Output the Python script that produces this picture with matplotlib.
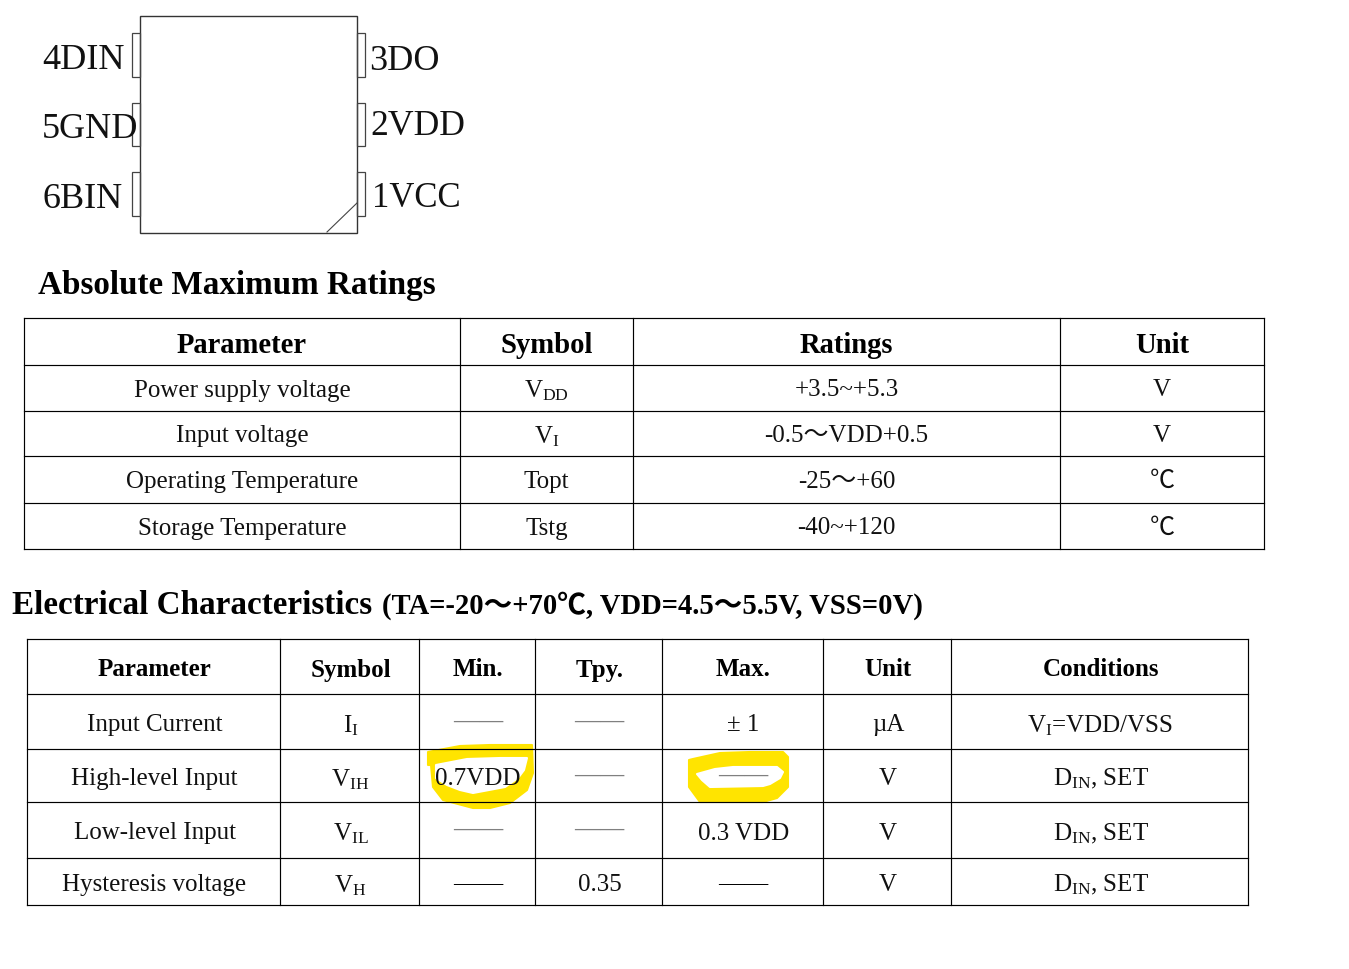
"""Pinout and rating tables from a LED driver datasheet."""

import matplotlib
matplotlib.use("Agg")
import matplotlib.pyplot as plt
from matplotlib.patches import Polygon, Rectangle

plt.rcParams["font.family"] = ["Liberation Serif", "Noto Sans CJK SC", "DejaVu Sans"]
plt.rcParams["mathtext.fontset"] = "custom"
plt.rcParams["mathtext.rm"] = "Liberation Serif"
plt.rcParams["mathtext.default"] = "rm"

# Pin labels
left_pins = ["4DIN", "5GND", "6BIN"]
right_pins = ["3DO", "2VDD", "1VCC"]

# Ratings table
ratings_title = "Absolute Maximum Ratings"
ratings_header = ["Parameter", "Symbol", "Ratings", "Unit"]
ratings_rows = [
    ["Power supply voltage", "V$_{DD}$", "+3.5~+5.3", "V"],
    ["Input voltage", "V$_{I}$", "-0.5～VDD+0.5", "V"],
    ["Operating Temperature", "Topt", "-25～+60", "℃"],
    ["Storage Temperature", "Tstg", "-40~+120", "℃"],
]

# Electrical table
elec_title = "Electrical Characteristics"
elec_note = "(TA=-20～+70℃, VDD=4.5～5.5V, VSS=0V)"
elec_header = ["Parameter", "Symbol", "Min.", "Tpy.", "Max.", "Unit", "Conditions"]
elec_rows = [
    ["Input Current", "I$_{I}$", "——", "——", "± 1", "µA", "V$_{I}$=VDD/VSS"],
    ["High-level Input", "V$_{IH}$", "0.7VDD", "——", "——", "V", "D$_{IN}$, SET"],
    ["Low-level Input", "V$_{IL}$", "——", "——", "0.3 VDD", "V", "D$_{IN}$, SET"],
    ["Hysteresis voltage", "V$_{H}$", "—", "0.35", "—", "V", "D$_{IN}$, SET"],
]

# Table grid positions in pixels
ratings_x = [24, 460, 633, 1060, 1264]
ratings_y = [318, 365, 411, 456, 503, 549]
elec_x = [27, 280, 419, 535, 662, 823, 951, 1248]
elec_y = [639, 694, 749, 802, 858, 905]

# Hand drawn highlighter marks
mark1_outer = [(428, 752), (460, 746), (490, 745), (532, 745), (533, 773), (527, 790),
               (510, 803), (490, 808), (473, 808), (443, 800), (433, 787), (431, 765), (428, 765)]
mark1_inner = [(436, 765), (467, 759), (500, 758), (527, 758), (524, 770), (518, 778),
               (505, 787), (473, 793), (460, 790), (447, 785), (436, 778)]
mark2_outer = [(689, 760), (693, 759), (720, 753), (750, 752), (783, 752), (788, 757), (788, 787),
               (777, 798), (763, 802), (700, 802), (689, 787)]
mark2_inner = [(697, 774), (715, 769), (733, 767), (777, 767), (783, 772), (780, 778), (770, 784),
               (763, 786), (710, 787), (702, 780)]

fig = plt.figure(figsize=(13.49, 9.69), dpi=100)
ax = fig.add_axes([0, 0, 1, 1])
ax.set_xlim(0, 1349)
ax.set_ylim(969, 0)
ax.axis("off")


def draw_table(xs, ys, header, rows, header_size, body_size, dx=0):
    """Draw the grid and the centred cell text of one table."""
    for x in xs:
        ax.plot([x, x], [ys[0], ys[-1]], color="black", lw=0.85, zorder=3)
    for y in ys:
        ax.plot([xs[0], xs[-1]], [y, y], color="black", lw=0.85, zorder=3)
    for i, label in enumerate(header):
        ax.text((xs[i] + xs[i + 1]) / 2 + dx, (ys[0] + ys[1]) / 2 + 1, label, ha="center",
                va="center_baseline", fontsize=header_size, fontweight="bold", zorder=4)
    for r, row in enumerate(rows):
        for i, label in enumerate(row):
            cx = (xs[i] + xs[i + 1]) / 2 + dx
            cy = (ys[r + 1] + ys[r + 2]) / 2
            if label == "——":
                # gray double dash sits high in the cell, bold gives the heavier rule
                ax.text(cx, cy - 3, label, ha="center", va="center_baseline",
                        fontsize=body_size, fontweight="bold", color="#808080", zorder=4)
            elif label == "—":
                # last row has a single long black rule
                ax.text(cx, cy - 1, "——", ha="center", va="center_baseline",
                        fontsize=body_size, color="black", zorder=4)
            else:
                ax.text(cx, cy + dx, label, ha="center", va="center_baseline",
                        fontsize=body_size, color="#111111", zorder=4)


# Chip outline
ax.add_patch(Rectangle((140, 16), 217, 217, fill=False, ec="#333333", lw=1.0))
ax.plot([327, 357], [232, 203], color="#444444", lw=0.8)
for y0, y1 in [(33, 77), (103, 146), (172, 216)]:
    ax.add_patch(Rectangle((132, y0), 8, y1 - y0, fill=False, ec="#444444", lw=0.9))
    ax.add_patch(Rectangle((357, y0), 8, y1 - y0, fill=False, ec="#444444", lw=0.9))
for label, y in zip(left_pins, [69, 138, 208]):
    ax.text(42, y, label, fontsize=26, color="#111111", va="baseline", zorder=4)
for label, x, y, size in zip(right_pins, [369, 370, 372], [70, 135, 207], [26, 25.7, 25]):
    ax.text(x, y, label, fontsize=size, color="#111111", va="baseline", zorder=4)

# Yellow marks go under the grid and the text
for outer, inner in [(mark1_outer, mark1_inner), (mark2_outer, mark2_inner)]:
    ax.add_patch(Polygon(outer, closed=True, fc="#FFE400", ec="#FFE400", lw=1.5,
                         joinstyle="round", zorder=1))
    ax.add_patch(Polygon(inner, closed=True, fc="white", ec="white", lw=1.5,
                         joinstyle="round", zorder=2))

# Section titles
ax.text(38, 294, ratings_title, fontsize=23.9, fontweight="bold", va="baseline")
ax.text(12, 614, elec_title, fontsize=23.9, fontweight="bold", va="baseline")
ax.text(382, 614, elec_note, fontsize=20.6, fontweight="bold", va="baseline")

draw_table(ratings_x, ratings_y, ratings_header, ratings_rows, 20.6, 18)
draw_table(elec_x, elec_y, elec_header, elec_rows, 18, 18, dx=1)

fig.savefig("out.png", dpi=100)
